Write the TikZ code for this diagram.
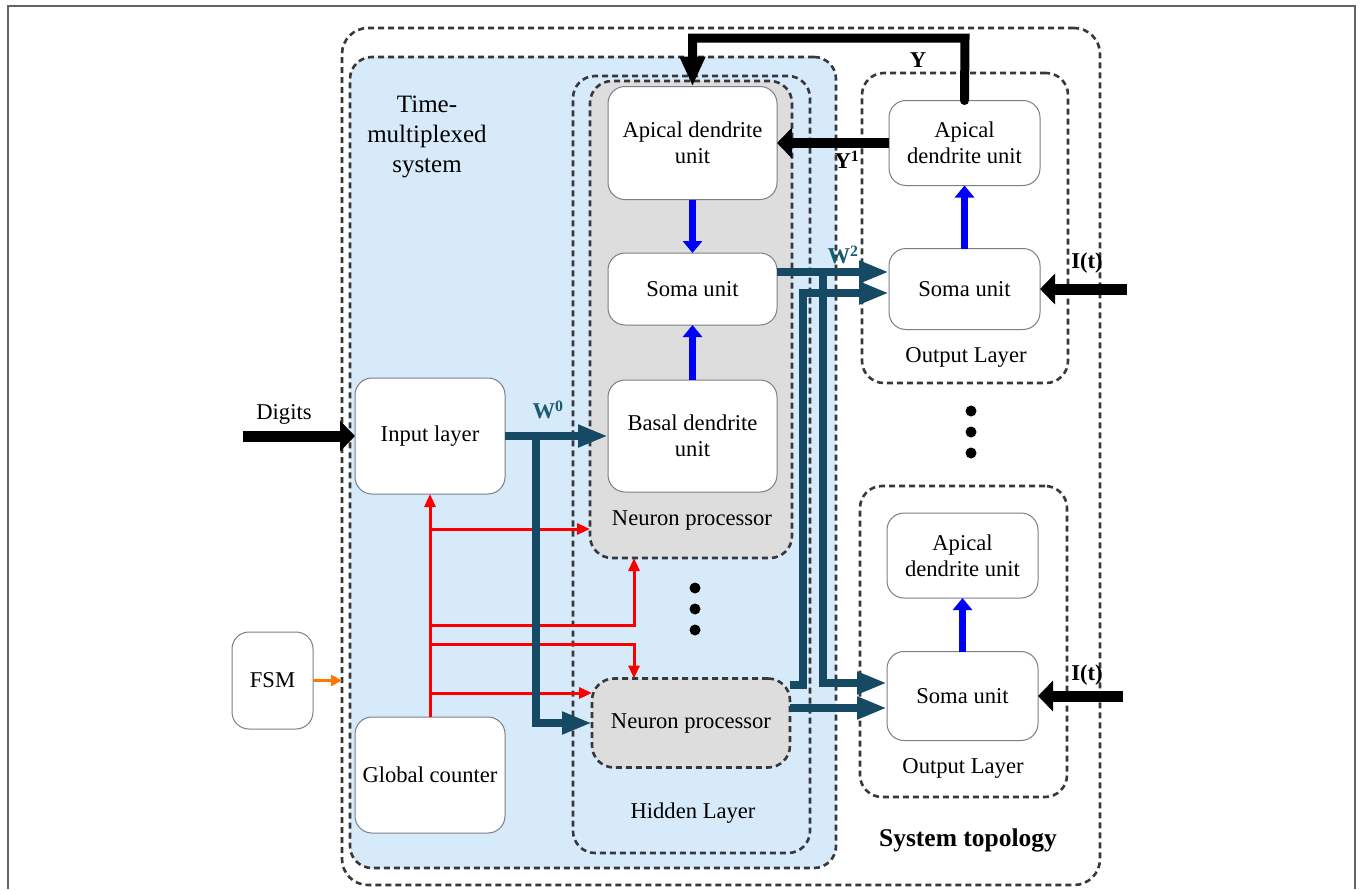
\documentclass[tikz,border=0pt]{standalone}
\usepackage{fontspec}
\setmainfont{Liberation Serif}
\usetikzlibrary{arrows.meta}
\definecolor{bluefill}{RGB}{214,234,250}
\definecolor{grayfill}{RGB}{221,221,221}
\definecolor{busc}{RGB}{22,74,100}
\definecolor{wlab}{RGB}{25,92,112}
\definecolor{dashc}{RGB}{55,55,60}
\definecolor{boxc}{RGB}{125,125,135}
\definecolor{orng}{RGB}{255,120,0}
\definecolor{framec}{RGB}{100,100,100}
\definecolor{redc}{RGB}{250,0,0}
\definecolor{bluec}{RGB}{0,0,250}
\begin{document}
\begin{tikzpicture}[x=1pt,y=-1pt,font=\fontsize{22.6}{26}\selectfont,
  dbox/.style={draw=dashc, dash pattern=on 6pt off 4pt, line width=2.6pt, rounded corners=22pt, inner sep=0pt, outer sep=0pt},
  ubox/.style={draw=boxc, line width=1pt, fill=white, rounded corners=17pt, inner sep=0pt, outer sep=0pt, align=center},
  lbl/.style={inner sep=0pt, align=center},
  blab/.style={inner sep=0pt, font=\fontsize{22.6}{26}\selectfont\bfseries},
  wlbl/.style={inner sep=0pt, text=wlab, font=\fontsize{22.6}{26}\selectfont\bfseries},
  blk/.style={draw=black, line width=11pt, -{Triangle[length=15pt,width=30pt]}},
  ythick/.style={draw=black, line width=9pt, line cap=round, -{Triangle[length=30pt,width=24pt]}},
  blu/.style={draw=bluec, line width=7pt, -{Triangle[length=12pt,width=19pt]}},
  bus/.style={draw=busc, line width=8pt, -{Triangle[length=30pt,width=21pt]}},
  busline/.style={draw=busc, line width=8pt},
  redarr/.style={draw=redc, line width=3pt, -{Triangle[length=13pt,width=11pt]}},
  orgarr/.style={draw=orng, line width=3pt, -{Triangle[length=11pt,width=11pt]}},
  dot/.style={circle, fill=black, minimum size=11pt, inner sep=0pt}
]
\useasboundingbox (0,0) rectangle (1360,889);
% outer frame
\draw[framec, line width=1.6pt] (8,889) -- (8,6) -- (1355,6) -- (1355,889);

% containers
\node[dbox, minimum width=758pt, minimum height=857pt, rounded corners=26pt] (sys) at (721,456.5) {};
\node[dbox, fill=bluefill, minimum width=486pt, minimum height=811pt] (tms) at (593,462.5) {};
\node[dbox, minimum width=237pt, minimum height=777pt] (hid) at (691.5,464.5) {};
\node[dbox, fill=grayfill, minimum width=202pt, minimum height=477pt] (np1) at (691,319.5) {};
\node[dbox, fill=grayfill, minimum width=198pt, minimum height=89pt, align=center] (np2) at (691,723) {Neuron processor};
\node[dbox, minimum width=206pt, minimum height=310pt] (ol1) at (965,228) {};
\node[dbox, minimum width=207pt, minimum height=311pt] (ol2) at (963.5,641.5) {};

% units
\node[ubox, minimum width=169pt, minimum height=113pt] (ap1) at (692.5,143) {Apical dendrite\\unit};
\node[ubox, minimum width=169pt, minimum height=72pt] (so1) at (692.5,289) {Soma unit};
\node[ubox, minimum width=169pt, minimum height=112pt] (ba1) at (692.5,436) {Basal dendrite\\unit};
\node[ubox, minimum width=150pt, minimum height=116pt] (in) at (430,436) {Input layer};
\node[ubox, minimum width=150pt, minimum height=116pt] (gc) at (430,775) {Global counter};
\node[ubox, minimum width=81pt, minimum height=97pt] (fsm) at (272.5,680.5) {FSM};
\node[ubox, minimum width=151pt, minimum height=85pt] (apo1) at (964.5,143) {Apical\\dendrite unit};
\node[ubox, minimum width=151pt, minimum height=81pt] (soo1) at (964.5,289) {Soma unit};
\node[ubox, minimum width=151pt, minimum height=85pt] (apo2) at (962.5,555.5) {Apical\\dendrite unit};
\node[ubox, minimum width=151pt, minimum height=89pt] (soo2) at (962.5,696) {Soma unit};

% text labels
\node[lbl, font=\fontsize{25}{30}\selectfont] (tmstxt) at (427,137) {Time-\\multiplexed\\system};
\node[lbl] (np1txt) at (692,520) {Neuron processor};
\node[lbl] (hidtxt) at (693,813) {Hidden Layer};
\node[lbl] (ol1txt) at (966,357) {Output Layer};
\node[lbl] (ol2txt) at (963,768) {Output Layer};
\node[lbl, font=\fontsize{25.5}{30}\selectfont\bfseries] (systxt) at (968,840) {System topology};
\node[lbl] (digtxt) at (284,414) {Digits};
\node[wlbl] (w0) at (548,410) {W\textsuperscript{0}};
\node[wlbl] (w2) at (843,255) {W\textsuperscript{2}};
\node[blab] (ytxt) at (918,60) {Y};
\node[blab] (y1txt) at (847,160) {Y\textsuperscript{1}};
\node[blab] (it1txt) at (1087,263) {I(t)};
\node[blab] (it2txt) at (1087,675) {I(t)};

% dots
\node[dot] (d1) at (695,588) {};
\node[dot] (d2) at (695,609) {};
\node[dot] (d3) at (695,630) {};
\node[dot] (d4) at (971,411) {};
\node[dot] (d5) at (971,432) {};
\node[dot] (d6) at (971,453) {};

% coordinates
\coordinate (ytop) at (965,38);
\coordinate (dig) at (243,436);
\coordinate (it1) at (1127,289);
\coordinate (it2) at (1123,696);
\coordinate (w0b) at (536,436);
\coordinate (w2a) at (823,272);
\coordinate (w2b) at (803,685);
\coordinate (r1) at (430,529);
\coordinate (r2) at (430,625);
\coordinate (r3) at (430,644);
\coordinate (r4) at (430,693);
\coordinate (rx) at (634,600);

% red control lines
\draw[redarr] (gc.north) -- (in.south);
\draw[redarr] (r1) -- (r1 -| np1.west);
\draw[redarr] (r2) -| (rx |- np1.south);
\draw[redarr] (r3) -| (rx |- np2.north);
\draw[redarr] (r4) -- (r4 -| np2.west);

% orange
\draw[orgarr] (fsm.east) -- (fsm.east -| sys.west);

% blue
\draw[blu] (ap1.south) -- (so1.north);
\draw[blu] (ba1.north) -- (so1.south);
\draw[blu] (soo1.north) -- (apo1.south);
\draw[blu] (soo2.north) -- (apo2.south);

% W0 bus
\draw[bus] (in.east) -- (ba1.west);
\draw[bus] (w0b) |- (np2.west);

% W2 bus
\draw[bus] ([yshift=17pt]so1.east) -- ([yshift=17pt]soo1.west);
\draw[bus] (w2a) |- ([yshift=13pt]soo2.west);
\draw[bus] ([yshift=38pt]np2.east) -| (w2b) |- ([yshift=-4pt]soo1.west);
\draw[bus] ([yshift=15pt]np2.east) -- ([yshift=-12pt]soo2.west);

% black arrows
\draw[blk] (dig) -- (in.west);
\draw[blk] (it1) -- (soo1.east);
\draw[blk] (it2) -- (soo2.east);
\draw[blk, line width=10pt] (apo1.west) -- (ap1.east);
\draw[ythick] (apo1.north) -- (ytop) -| (ap1.north);
\end{tikzpicture}
\end{document}
